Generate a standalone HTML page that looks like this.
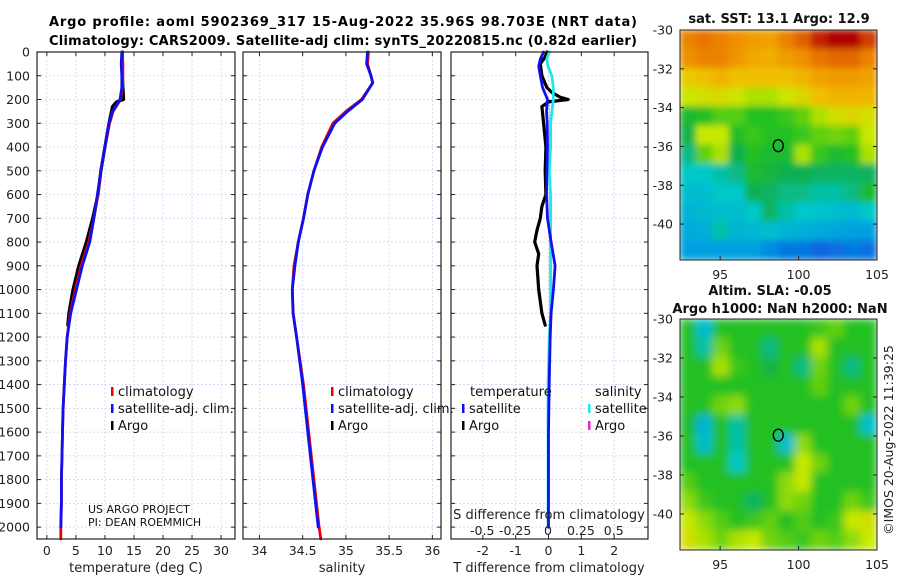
<!DOCTYPE html>
<html><head><meta charset="utf-8"><style>
html,body{margin:0;padding:0;background:#fff;}
svg{display:block;font-family:"DejaVu Sans","Liberation Sans",sans-serif;}
</style></head><body>
<svg id="fig" width="900" height="580" viewBox="0 0 900 580" xmlns="http://www.w3.org/2000/svg">
<defs>
<filter id="blurA" x="0" y="0" width="1" height="1"><feGaussianBlur stdDeviation="3.5"/></filter>
<filter id="blurB" x="0" y="0" width="1" height="1"><feGaussianBlur stdDeviation="4.5"/></filter>
<clipPath id="clipTop"><rect x="680" y="30" width="197" height="230"/></clipPath>
<clipPath id="clipBot"><rect x="680" y="319" width="197" height="231"/></clipPath>
</defs>
<text x="343" y="26" text-anchor="middle" font-weight="bold" font-size="13" textLength="588">Argo profile: aoml 5902369_317 15-Aug-2022 35.96S 98.703E (NRT data)</text>
<text x="343" y="45" text-anchor="middle" font-weight="bold" font-size="13" textLength="588">Climatology: CARS2009. Satellite-adj clim: synTS_20220815.nc (0.82d earlier)</text>
<g id="plots"></g>
</svg>
<script>
// ---- profile data ----
const tDepth = [0,50,100,150,200,250,300,400,500,600,700,800,900,1000,1100,1200,1300,1400,1500,1600,1700,1800,1900,2000,2050];
const tClim  = [13.0,13.1,13.1,13.0,12.7,11.4,10.8,10.0,9.3,8.8,8.1,7.2,5.9,4.9,4.0,3.5,3.2,3.0,2.8,2.7,2.6,2.5,2.5,2.4,2.4];
const tSatDepth = [0,50,100,150,200,250,300,400,500,600,700,800,900,1000,1100,1200,1300,1400,1500,1600,1700,1800,1900,2000];
const tSat   = [12.9,12.8,12.9,12.9,12.6,11.3,10.7,10.0,9.3,8.7,8.1,7.4,6.1,5.1,4.1,3.5,3.2,3.0,2.8,2.7,2.6,2.5,2.5,2.4];
const tArgoDepth = [0,50,100,150,190,200,210,230,300,400,500,600,700,800,900,1000,1100,1150];
const tArgo  = [13.0,13.0,13.0,13.1,13.2,13.2,12.0,11.3,10.7,10.0,9.3,8.8,7.9,6.8,5.5,4.5,3.8,3.6];

const sDepth = [0,50,100,130,200,250,300,400,500,600,700,800,900,1000,1100,1200,1400,1600,1800,2000,2050];
const sClim  = [35.26,35.25,35.29,35.31,35.18,35.0,34.85,34.72,34.63,34.56,34.51,34.45,34.40,34.38,34.39,34.43,34.51,34.57,34.63,34.69,34.71];
const sSatDepth = [0,50,100,130,200,250,300,400,500,600,700,800,900,1000,1100,1200,1400,1600,1800,2000];
const sSat   = [35.25,35.24,35.29,35.31,35.19,35.02,34.87,34.73,34.63,34.56,34.51,34.45,34.41,34.38,34.39,34.43,34.50,34.56,34.62,34.68];

const dDepth = [0,30,60,100,150,200,250,300,400,500,600,700,800,900,1000,1100,1200,1400,1600,1800,2000];
const dTSat  = [-0.15,-0.25,-0.3,-0.25,-0.18,-0.03,-0.06,-0.04,-0.03,-0.05,-0.06,-0.03,0.08,0.2,0.15,0.08,0.05,0.02,0.0,0.0,0.0];
const dSSat  = [0.01,-0.01,0.0,0.03,0.04,0.04,0.03,0.02,0.02,0.01,0.02,0.02,0.02,0.02,0.02,0.02,0.01,0.0,0.0,0.0,0.0];
const dArgoDepth = [0,20,50,100,150,170,190,200,210,230,300,400,500,600,650,700,750,800,850,900,1000,1050,1100,1150];
const dTArgo = [-0.05,-0.1,-0.25,-0.2,-0.05,0.1,0.35,0.6,0.0,-0.2,-0.15,-0.08,-0.1,-0.08,-0.2,-0.25,-0.35,-0.42,-0.3,-0.35,-0.3,-0.25,-0.2,-0.1];

const depthTicks = [0,100,200,300,400,500,600,700,800,900,1000,1100,1200,1300,1400,1500,1600,1700,1800,1900,2000];
const tTicks = [0,5,10,15,20,25,30];
const sTicks = [34,34.5,35,35.5,36];
const sTickLabels = ["34","34.5","35","35.5","36"];
const dTTicks = [-2,-1,0,1,2];
const dSTicks = [-0.5,-0.25,0,0.25,0.5];
const dSTickLabels = ["-0.5","-0.25","0","0.25","0.5"];

// ---- map data (values 0..1 colormap index) ----
const mapLonTicks = [95,100,105];
const mapLatTicks = [-30,-32,-34,-36,-38,-40];
const sstGrid = [
[0.8,0.82,0.8,0.78,0.76,0.75,0.8,0.85,0.9,0.93,0.93,0.88],
[0.78,0.8,0.8,0.77,0.74,0.73,0.76,0.78,0.82,0.84,0.84,0.8],
[0.68,0.7,0.72,0.7,0.7,0.7,0.7,0.72,0.75,0.76,0.76,0.75],
[0.62,0.64,0.65,0.63,0.6,0.6,0.63,0.66,0.7,0.72,0.72,0.72],
[0.48,0.5,0.54,0.54,0.5,0.5,0.52,0.55,0.6,0.64,0.66,0.64],
[0.46,0.62,0.62,0.5,0.52,0.5,0.5,0.52,0.55,0.56,0.55,0.62],
[0.42,0.55,0.6,0.45,0.5,0.48,0.48,0.6,0.52,0.48,0.5,0.6],
[0.38,0.38,0.4,0.42,0.48,0.47,0.45,0.45,0.44,0.44,0.44,0.44],
[0.36,0.36,0.38,0.38,0.45,0.44,0.42,0.42,0.4,0.4,0.42,0.48],
[0.34,0.35,0.36,0.36,0.38,0.44,0.4,0.38,0.37,0.36,0.35,0.38],
[0.32,0.33,0.4,0.34,0.35,0.36,0.34,0.33,0.32,0.31,0.3,0.3],
[0.3,0.3,0.3,0.3,0.3,0.28,0.26,0.26,0.24,0.25,0.26,0.25]];
const slaGrid = [
[0.5,0.36,0.5,0.5,0.5,0.5,0.5,0.5,0.52,0.55,0.5,0.5],
[0.5,0.4,0.56,0.5,0.5,0.42,0.5,0.5,0.6,0.5,0.5,0.5],
[0.5,0.5,0.6,0.52,0.5,0.46,0.5,0.42,0.56,0.5,0.42,0.5],
[0.5,0.5,0.5,0.5,0.5,0.5,0.5,0.5,0.55,0.5,0.5,0.5],
[0.5,0.5,0.56,0.58,0.5,0.5,0.5,0.5,0.5,0.5,0.56,0.5],
[0.48,0.34,0.5,0.4,0.5,0.5,0.5,0.5,0.5,0.5,0.5,0.36],
[0.5,0.36,0.5,0.4,0.5,0.5,0.36,0.58,0.5,0.5,0.5,0.5],
[0.5,0.5,0.5,0.38,0.5,0.5,0.5,0.62,0.56,0.5,0.5,0.5],
[0.54,0.5,0.5,0.5,0.5,0.5,0.58,0.62,0.5,0.5,0.5,0.5],
[0.58,0.52,0.5,0.5,0.44,0.5,0.58,0.56,0.5,0.5,0.56,0.52],
[0.62,0.58,0.54,0.5,0.52,0.55,0.5,0.54,0.5,0.52,0.62,0.64],
[0.64,0.6,0.56,0.6,0.62,0.56,0.54,0.52,0.56,0.54,0.58,0.62]];

const NS = "http://www.w3.org/2000/svg";
const root = document.getElementById('plots');
function el(tag, attrs, parent){ const e=document.createElementNS(NS,tag); for(const k in attrs) e.setAttribute(k,attrs[k]); (parent||root).appendChild(e); return e; }

const Y0=52, Y1=539, D0=0, D1=2050;
const yD = d => Y0 + (d-D0)/(D1-D0)*(Y1-Y0);

function panel(x0,x1,xmin,xmax){ return { x0,x1, sx: v => x0 + (v-xmin)/(xmax-xmin)*(x1-x0) }; }
const p1 = panel(37,235,-1.7,32.4);
const p2 = panel(243,441,33.81,36.1);
const p3 = panel(451,648,-2.97,3.03);
const sxS = v => 548 + v*131.5;

function frame(p, name, leftLabels){
  const g = el('g',{});
  
  
  depthTicks.forEach(d=>{
    const y=yD(d);
    const gl = el('line',{x1:p.x0,x2:p.x1,y1:y,y2:y,stroke:'#cfd2f2','stroke-width':0.8,'stroke-dasharray':'2,2'},g);
    
    
    el('line',{x1:p.x0,x2:p.x0+4,y1:y,y2:y,stroke:'#222'},g);
    el('line',{x1:p.x1,x2:p.x1-4,y1:y,y2:y,stroke:'#222'},g);
    if(leftLabels){
      const t = el('text',{x:30,y:y+4.5,'text-anchor':'end','font-size':12.5,fill:'#222'},g);
      t.textContent = d;
      
      
    }
  });
  return g;
}
function xgrid(g, p, vals, sx){
  vals.forEach(v=>{
    const x=sx(v);
    const gl = el('line',{x1:x,x2:x,y1:Y0,y2:Y1,stroke:'#cfd2f2','stroke-width':0.8,'stroke-dasharray':'2,2'},g);
    
    
    el('line',{x1:x,x2:x,y1:Y1,y2:Y1-4,stroke:'#222'},g);
    el('line',{x1:x,x2:x,y1:Y0,y2:Y0+4,stroke:'#222'},g);
  });
}
function xlabels(g, vals, labels, sx, y, name){
  vals.forEach((v,i)=>{
    const t = el('text',{x:sx(v),y:y,'text-anchor':'middle','font-size':12.5,fill:'#222'},g);
    t.textContent = labels ? labels[i] : v;
    
    
  });
}
function box(g,p){ el('rect',{x:p.x0,y:Y0,width:p.x1-p.x0,height:Y1-Y0,fill:'none',stroke:'#222','stroke-width':1.2},g); }
function line(g, depths, vals, sx, color, w, name){
  const pts = depths.map((d,i)=> sx(vals[i]).toFixed(1)+','+yD(d).toFixed(1)).join(' ');
  const pl = el('polyline',{points:pts,fill:'none',stroke:color,'stroke-width':w,'stroke-linejoin':'round','stroke-linecap':'round'},g);
  
  
  return pl;
}
function legend(g, x, y, color, label){
  el('rect',{x:x,y:y-9,width:2.5,height:9,fill:color},g);
  const t = el('text',{x:x+7,y:y,'font-size':13,fill:'#111'},g);
  t.textContent = label;
  
  
}

// Panel 1: temperature
const g1 = frame(p1,'temperature-panel',true);
xgrid(g1,p1,tTicks,p1.sx);
line(g1,tArgoDepth,tArgo,p1.sx,'#000',3.2,'temperature-argo-line');
line(g1,tDepth,tClim,p1.sx,'#ee0000',2.8,'temperature-climatology-line');
line(g1,tSatDepth,tSat,p1.sx,'#1010ee',2.8,'temperature-satellite-line');
box(g1,p1);
xlabels(g1,tTicks,null,p1.sx,555,'temperature-tick-label');
{const t=el('text',{x:136,y:572,'text-anchor':'middle','font-size':13,fill:'#222'},g1);t.textContent='temperature (deg C)';}
legend(g1,111,396,'#ee0000','climatology');
legend(g1,111,413,'#1010ee','satellite-adj. clim.');
legend(g1,111,430,'#000','Argo');
{const t=el('text',{x:88,y:513,'font-size':11,fill:'#111'},g1);t.textContent='US ARGO PROJECT';
 const t2=el('text',{x:88,y:526,'font-size':11,fill:'#111'},g1);t2.textContent='PI: DEAN ROEMMICH';}

// Panel 2: salinity
const g2 = frame(p2,'salinity-panel',false);
xgrid(g2,p2,sTicks,p2.sx);
line(g2,sDepth,sClim,p2.sx,'#ee0000',2.8,'salinity-climatology-line');
line(g2,sSatDepth,sSat,p2.sx,'#1010ee',2.8,'salinity-satellite-line');
box(g2,p2);
xlabels(g2,sTicks,sTickLabels,p2.sx,555,'salinity-tick-label');
{const t=el('text',{x:342,y:572,'text-anchor':'middle','font-size':13,fill:'#222'},g2);t.textContent='salinity';}
legend(g2,331,396,'#ee0000','climatology');
legend(g2,331,413,'#1010ee','satellite-adj. clim.');
legend(g2,331,430,'#000','Argo');

// Panel 3: differences
const g3 = frame(p3,'difference-panel',false);
xgrid(g3,p3,dTTicks,p3.sx);
el('line',{x1:p3.sx(0)+1,x2:p3.sx(0)+1,y1:yD(200),y2:yD(1000),stroke:'#666','stroke-width':1,'stroke-dasharray':'1,2'},g3);
line(g3,dArgoDepth,dTArgo,p3.sx,'#000',3.2,'t-diff-argo-line');
line(g3,dDepth,dSSat,sxS,'#20e8e8',2.8,'s-diff-satellite-line');
line(g3,dDepth,dTSat,p3.sx,'#1010ee',2.8,'t-diff-satellite-line');
box(g3,p3);
xlabels(g3,dTTicks,null,p3.sx,555,'t-diff-tick-label');
xlabels(g3,dSTicks,dSTickLabels,sxS,535,'s-diff-tick-label');
{const t=el('text',{x:549,y:519,'text-anchor':'middle','font-size':13,fill:'#222'},g3);t.textContent='S difference from climatology';
 const t2=el('text',{x:549,y:572,'text-anchor':'middle','font-size':13,fill:'#222'},g3);t2.textContent='T difference from climatology';
 const t3=el('text',{x:470,y:396,'font-size':13,fill:'#111'},g3);t3.textContent='temperature';
 const t4=el('text',{x:595,y:396,'font-size':13,fill:'#111'},g3);t4.textContent='salinity';}
legend(g3,462,413,'#1010ee','satellite');
legend(g3,462,430,'#000','Argo');
legend(g3,588,413,'#20e8e8','satellite');
legend(g3,588,430,'#ee22cc','Argo');

// ---- maps ----
const cmapStops=[[0.2,[16,64,224]],[0.3,[0,160,224]],[0.38,[0,200,200]],[0.45,[16,176,80]],[0.5,[32,192,32]],[0.55,[96,208,16]],[0.62,[200,232,0]],[0.7,[240,192,0]],[0.78,[240,144,0]],[0.85,[224,96,0]],[0.93,[176,0,0]]];
function cmap(v){
  if(v<=cmapStops[0][0]) return 'rgb('+cmapStops[0][1]+')';
  for(let i=1;i<cmapStops.length;i++){
    if(v<=cmapStops[i][0]){const a=cmapStops[i-1],b=cmapStops[i];const f=(v-a[0])/(b[0]-a[0]);
      return 'rgb('+a[1].map((c,k)=>Math.round(c+(b[1][k]-c)*f)).join(',')+')';}
  }
  return 'rgb('+cmapStops[cmapStops.length-1][1]+')';
}
function mapPanel(name, grid, yTop, clip, filt){
  const X0=680,X1=877,H=yTop===30?230:231;
  const lonMin=92.44, lonMax=105, latTop=-30, latBot=-41.85;
  const sx=lon=>X0+(lon-lonMin)/(lonMax-lonMin)*(X1-X0);
  const sy=lat=>yTop+(lat-latTop)/(latBot-latTop)*H;
  const g=el('g',{});
  
  
  const cg=el('g',{'clip-path':'url(#'+clip+')'},g);
  const ig=el('g',{filter:'url(#'+filt+')'},cg);
  const rows=grid.length, cols=grid[0].length;
  const cw=(X1-X0)/cols, ch=H/rows;
  el('rect',{x:X0,y:yTop,width:X1-X0,height:H,fill:cmap(0.5)},ig);
  grid.forEach((row,r)=>row.forEach((v,c)=>{
    const cell=el('rect',{x:X0+c*cw-0.5,y:yTop+r*ch-0.5,width:cw+1,height:ch+1,fill:cmap(v)},ig);
    
    
  }));
  el('rect',{x:X0,y:yTop,width:X1-X0,height:H,fill:'none',stroke:'#222','stroke-width':1},g);
  mapLonTicks.forEach(l=>{const x=sx(l);el('line',{x1:x,x2:x,y1:yTop+H,y2:yTop+H-4,stroke:'#222'},g);
    const t=el('text',{x:x,y:yTop+H+19,'text-anchor':'middle','font-size':12.5,fill:'#222'},g);t.textContent=l;
    });
  mapLatTicks.forEach(l=>{const y=sy(l);el('line',{x1:X0,x2:X0+4,y1:y,y2:y,stroke:'#222'},g);el('line',{x1:X1,x2:X1-4,y1:y,y2:y,stroke:'#222'},g);
    const t=el('text',{x:673,y:y+4.5,'text-anchor':'end','font-size':12.5,fill:'#222'},g);t.textContent=l;
    });
  const m=el('ellipse',{cx:sx(98.703),cy:sy(-35.96),rx:5,ry:6,fill:'none',stroke:'#000','stroke-width':1.3},g);
  
  
}
mapPanel('sst-map',sstGrid,30,'clipTop','blurA');
mapPanel('sla-map',slaGrid,319,'clipBot','blurB');
function txt(x,y,s,name,extra){const t=el('text',Object.assign({x:x,y:y,'text-anchor':'middle','font-weight':'bold','font-size':13,fill:'#111'},extra||{}));t.textContent=s;return t;}
txt(779,23,'sat. SST: 13.1 Argo: 12.9','sst-map-title');
txt(770,295,'Altim. SLA: -0.05','sla-map-title');
txt(780,313,'Argo h1000: NaN h2000: NaN','argo-height-title');
{const t=el('text',{x:0,y:0,'text-anchor':'middle','font-size':12.5,fill:'#222',transform:'translate(893,440) rotate(-90)'});t.textContent='\u00A9IMOS 20-Aug-2022 11:39:25';}
</script>
</body></html>
